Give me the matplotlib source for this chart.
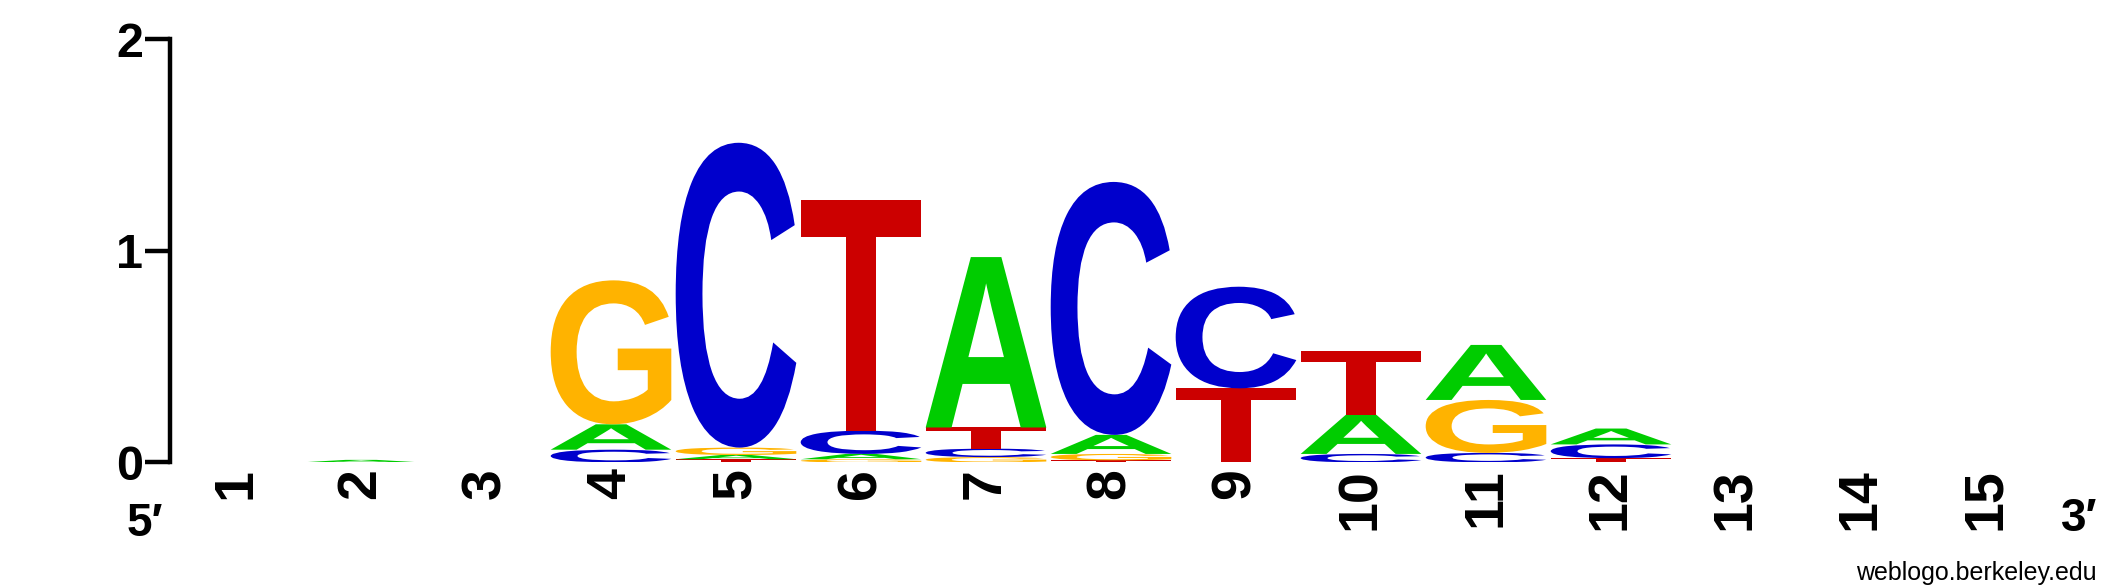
import matplotlib
matplotlib.use('Agg')
import matplotlib.pyplot as plt
from matplotlib.textpath import TextPath
from matplotlib.patches import PathPatch
from matplotlib.font_manager import FontProperties
from matplotlib.transforms import Affine2D

# Sequence logo data: letter heights (bits) at each position
positions = list(range(1, 16))
height_A = [0, 0.012, 0, 0.12, 0.02, 0.025, 0.805, 0.09, 0, 0.185, 0.26, 0.075, 0, 0, 0]
height_C = [0, 0, 0, 0.06, 1.44, 0.11, 0.04, 1.195, 0.48, 0.04, 0.045, 0.065, 0, 0, 0]
height_G = [0, 0, 0, 0.68, 0.035, 0.015, 0.025, 0.03, 0, 0, 0.25, 0, 0, 0, 0]
height_T = [0, 0, 0, 0, 0.015, 1.09, 0.1, 0.01, 0.35, 0.3, 0, 0.02, 0, 0, 0]

colors = {'A': '#00CC00', 'C': '#0000CC', 'G': '#FFB300', 'T': '#CC0000'}
letter_font = FontProperties(family='Liberation Sans', weight='bold')


def draw_letter(ax, letter, x, bottom, height, width=0.965):
    # stretch the glyph outline so it fills its box
    tp = TextPath((0, 0), letter, size=1, prop=letter_font)
    ext = tp.get_extents()
    t = (Affine2D()
         .translate(-ext.x0, -ext.y0)
         .scale(width / ext.width, height / ext.height)
         .translate(x - width / 2, bottom))
    ax.add_patch(PathPatch(t.transform_path(tp), facecolor=colors[letter],
                           edgecolor='none'))


fig = plt.figure(figsize=(21.25, 5.88), dpi=100)
ax = fig.add_axes([0.08, 0.2136, 0.884, 0.72])

for i, pos in enumerate(positions):
    stack = [('A', height_A[i]), ('C', height_C[i]),
             ('G', height_G[i]), ('T', height_T[i])]
    stack = sorted([s for s in stack if s[1] > 0], key=lambda s: s[1])
    bottom = 0
    for letter, h in stack:
        draw_letter(ax, letter, pos, bottom, h)
        bottom += h

ax.set_xlim(0.472, 15.5)
ax.set_ylim(0, 2)

for side in ['top', 'right', 'bottom']:
    ax.spines[side].set_visible(False)
ax.spines['left'].set_linewidth(3.2)

ax.set_yticks([0, 1, 2])
ax.set_yticklabels(['0', '1', '2'], fontsize=35, fontweight='bold',
                   family='Liberation Sans')
ax.tick_params(axis='y', length=18, width=3.2, pad=1.5)

ax.set_xticks(positions)
ax.set_xticklabels([str(p) for p in positions], rotation=90, fontsize=40,
                   fontweight='bold', family='Liberation Sans')
ax.tick_params(axis='x', length=0, pad=4)

fig.text(145 / 2125, 1 - 524 / 588, '5\u2032', ha='center', va='center',
         fontsize=33, fontweight='bold', family=['Liberation Sans', 'DejaVu Sans'])
fig.text(2079 / 2125, 1 - 519 / 588, '3\u2032', ha='center', va='center',
         fontsize=33, fontweight='bold', family=['Liberation Sans', 'DejaVu Sans'])
fig.text(2097 / 2125, 8 / 588, 'weblogo.berkeley.edu', ha='right',
         va='baseline', fontsize=18, family='Liberation Sans')

fig.savefig('out.png', dpi=100)
